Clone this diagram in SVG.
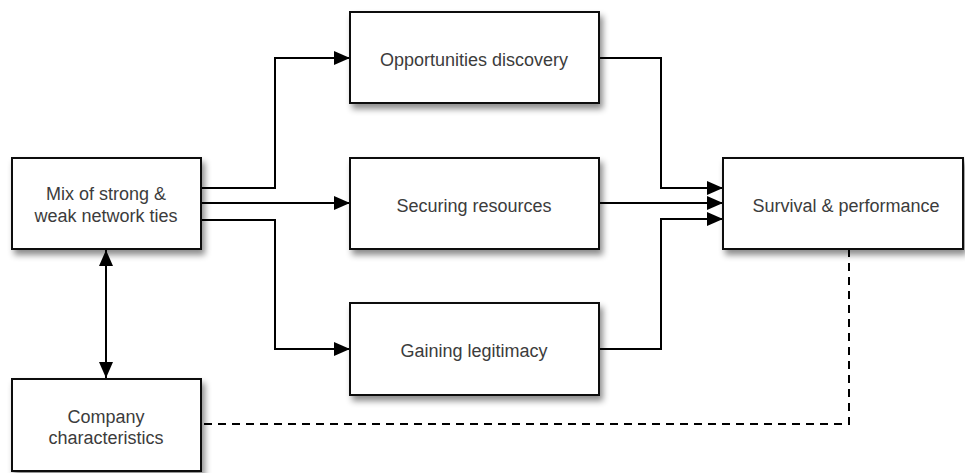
<svg xmlns="http://www.w3.org/2000/svg" width="965" height="473" viewBox="0 0 965 473">
  <defs>
    <filter id="shadow" x="-10%" y="-20%" width="130%" height="150%">
      <feDropShadow dx="3" dy="5" stdDeviation="3" flood-color="#000" flood-opacity="0.45"/>
    </filter>
    <marker id="arrow" viewBox="0 0 16 14" refX="16" refY="7" markerWidth="16" markerHeight="14" markerUnits="userSpaceOnUse" orient="auto-start-reverse">
      <path d="M0,0 L16,7 L0,14 Z" fill="#000"/>
    </marker>
    <style>
      .box { fill: #fff; stroke: #111; stroke-width: 2; filter: url(#shadow); }
      .label { font-family: "Liberation Sans", Arial, sans-serif; font-size: 18px; fill: #3c3c3c; text-anchor: middle; }
      .edge { fill: none; stroke: #000; stroke-width: 2; }
      .dashed { stroke-dasharray: 8 6; }
    </style>
  </defs>
  <rect width="965" height="473" fill="#fff"/>

  <g id="connectors">
    <path class="edge" d="M201,188 H275 V58 H350" marker-end="url(#arrow)"/>
    <path class="edge" d="M201,203 H350" marker-end="url(#arrow)"/>
    <path class="edge" d="M201,220 H275 V349 H350" marker-end="url(#arrow)"/>
    <path class="edge" d="M599,58 H661 V188 H723" marker-end="url(#arrow)"/>
    <path class="edge" d="M599,203 H723" marker-end="url(#arrow)"/>
    <path class="edge" d="M599,349 H661 V219 H723" marker-end="url(#arrow)"/>
    <path class="edge" d="M106,250 V378" marker-start="url(#arrow)" marker-end="url(#arrow)"/>
    <path class="edge dashed" d="M849,249 V424 H201"/>
  </g>

  <g id="mix-ties">
    <rect class="box" x="12" y="158" width="189" height="91"/>
    <text class="label" x="106" y="200">Mix of strong &amp;</text>
    <text class="label" x="106" y="222">weak network ties</text>
  </g>

  <g id="company">
    <rect class="box" x="12" y="379" width="189" height="92"/>
    <text class="label" x="106" y="423">Company</text>
    <text class="label" x="106" y="444">characteristics</text>
  </g>

  <g id="opportunities">
    <rect class="box" x="350" y="12" width="249" height="91"/>
    <text class="label" x="474" y="66">Opportunities discovery</text>
  </g>

  <g id="resources">
    <rect class="box" x="350" y="158" width="249" height="91"/>
    <text class="label" x="474" y="212">Securing resources</text>
  </g>

  <g id="legitimacy">
    <rect class="box" x="350" y="303" width="249" height="92"/>
    <text class="label" x="474" y="357">Gaining legitimacy</text>
  </g>

  <g id="survival">
    <rect class="box" x="723" y="158" width="240" height="91"/>
    <text class="label" x="846" y="212">Survival &amp; performance</text>
  </g>
</svg>
